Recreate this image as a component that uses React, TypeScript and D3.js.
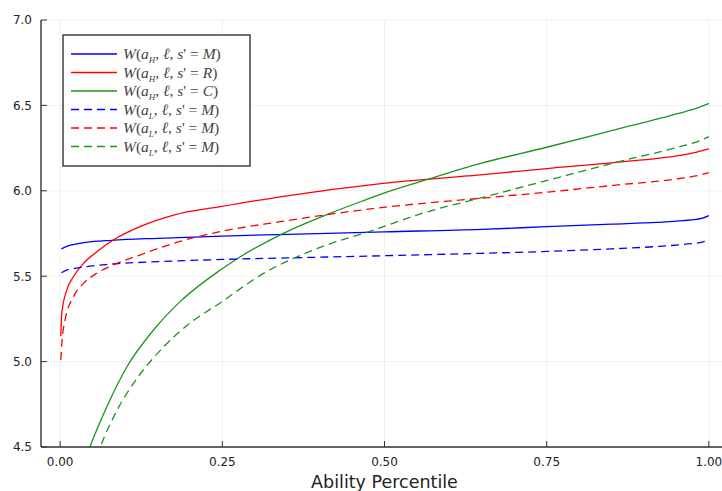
import React from "react";
import * as d3 from "d3";

// ---- data ----
const xTicks = [0, 0.25, 0.5, 0.75, 1.0];
const yTicks = [4.5, 5.0, 5.5, 6.0, 6.5, 7.0];

const hMx = [0.002, 0.01, 0.02, 0.04, 0.08, 0.15, 0.25, 0.35, 0.5, 0.65, 0.75, 0.85, 0.92, 0.96, 0.99, 1.0];
const hMy = [5.66, 5.675, 5.685, 5.698, 5.71, 5.722, 5.735, 5.745, 5.76, 5.774, 5.79, 5.805, 5.815, 5.825, 5.84, 5.855];

const hRx = [0.001, 0.0026, 0.0103, 0.0205, 0.036, 0.0565, 0.082, 0.123, 0.175, 0.247, 0.339, 0.498, 0.647, 0.75, 0.853, 0.955, 0.98, 1.0];
const hRy = [5.15, 5.285, 5.42, 5.497, 5.575, 5.643, 5.712, 5.79, 5.858, 5.907, 5.965, 6.044, 6.093, 6.13, 6.165, 6.207, 6.225, 6.245];

const hCx = [0.03, 0.046, 0.072, 0.103, 0.144, 0.185, 0.247, 0.27, 0.344, 0.416, 0.47, 0.498, 0.56, 0.647, 0.75, 0.853, 0.955, 0.98, 1.0];
const hCy = [4.33, 4.502, 4.736, 4.97, 5.185, 5.351, 5.536, 5.595, 5.751, 5.868, 5.946, 5.985, 6.059, 6.159, 6.255, 6.355, 6.455, 6.482, 6.512];

const lMx = [0.002, 0.01, 0.03, 0.07, 0.15, 0.25, 0.35, 0.5, 0.65, 0.75, 0.85, 0.92, 0.96, 0.99, 1.0];
const lMy = [5.52, 5.535, 5.55, 5.568, 5.585, 5.598, 5.607, 5.62, 5.634, 5.645, 5.66, 5.674, 5.686, 5.70, 5.71];

const lRx = [0.001, 0.0026, 0.0077, 0.0205, 0.036, 0.0565, 0.082, 0.123, 0.175, 0.247, 0.339, 0.498, 0.647, 0.75, 0.853, 0.955, 0.98, 1.0];
const lRy = [5.01, 5.107, 5.244, 5.38, 5.458, 5.517, 5.566, 5.624, 5.693, 5.761, 5.819, 5.903, 5.956, 5.992, 6.032, 6.072, 6.087, 6.106];

const lCx = [0.045, 0.062, 0.087, 0.118, 0.159, 0.195, 0.247, 0.313, 0.39, 0.483, 0.56, 0.655, 0.75, 0.853, 0.955, 0.98, 1.0];
const lCy = [4.3, 4.5, 4.71, 4.899, 5.084, 5.21, 5.345, 5.515, 5.653, 5.77, 5.87, 5.965, 6.06, 6.163, 6.258, 6.285, 6.317];

const seriesColors = ["#0000ff", "#ff0000", "#1f931f"];
const legendSub = ["H", "H", "H", "L", "L", "L"];
const legendS = ["M", "R", "C", "M", "M", "M"];

const series = [
  { xs: hMx, ys: hMy, color: seriesColors[0], dashed: false },
  { xs: hRx, ys: hRy, color: seriesColors[1], dashed: false },
  { xs: hCx, ys: hCy, color: seriesColors[2], dashed: false },
  { xs: lMx, ys: lMy, color: seriesColors[0], dashed: true },
  { xs: lRx, ys: lRy, color: seriesColors[1], dashed: true },
  { xs: lCx, ys: lCy, color: seriesColors[2], dashed: true },
];

export default function App() {
  const W = 722, H = 491;
  const x = d3.scaleLinear().domain([-0.0295, 1.0295]).range([41, 728]);
  const y = d3.scaleLinear().domain([4.5, 7.0]).range([447, 20]);
  const line = d3
    .line<[number, number]>()
    .x((d) => x(d[0]))
    .y((d) => y(d[1]))
    .curve(d3.curveMonotoneX);

  const left = x.range()[0];
  const right = x.range()[1];
  const top = y.range()[1];
  const bottom = y.range()[0];
  const sans = "DejaVu Sans, sans-serif";
  const serif = "'Liberation Serif', 'DejaVu Serif', serif";

  const legX = 63, legY = 35, legW = 187, legH = 131;
  const rowY0 = 54, rowDy = 18.5;

  return (
    <svg width={W} height={H} style={{ position: "absolute", left: 0, top: 0, background: "#fff" }}>
      <defs>
        <clipPath id="plotclip">
          <rect x={left} y={top} width={right - left} height={bottom - top} />
        </clipPath>
      </defs>
      {/* grid */}
      {xTicks.map((t) => (
        <line key={"gx" + t} x1={x(t)} x2={x(t)} y1={top} y2={bottom} stroke="#000" strokeOpacity={0.1} strokeWidth={0.6} />
      ))}
      {yTicks.map((t) => (
        <line key={"gy" + t} x1={left} x2={right} y1={y(t)} y2={y(t)} stroke="#000" strokeOpacity={0.1} strokeWidth={0.6} />
      ))}
      {/* series */}
      <g clipPath="url(#plotclip)">
        {series.map((s, i) => (
          <path
            key={i}
            d={line(s.xs.map((v, j) => [v, s.ys[j]] as [number, number])) || ""}
            fill="none"
            stroke={s.color}
            strokeWidth={1.3}
            strokeDasharray={s.dashed ? "8 5" : undefined}
          />
        ))}
      </g>
      {/* axes */}
      <line x1={left} x2={left} y1={top} y2={bottom} stroke="#333" strokeWidth={1.4} />
      <line x1={left} x2={right} y1={bottom} y2={bottom} stroke="#333" strokeWidth={1.4} />
      {yTicks.map((t) => (
        <g key={"ty" + t}>
          <line x1={left} x2={left + 6} y1={y(t)} y2={y(t)} stroke="#333" strokeWidth={1} />
          <text x={32} y={y(t)} dy="0.36em" textAnchor="end" fontFamily={sans} fontSize={12} fill="#222">
            {t.toFixed(1)}
          </text>
        </g>
      ))}
      {xTicks.map((t) => (
        <g key={"tx" + t}>
          <line x1={x(t)} x2={x(t)} y1={bottom} y2={bottom - 6} stroke="#333" strokeWidth={1} />
          <text x={x(t)} y={466} textAnchor="middle" fontFamily={sans} fontSize={12} fill="#222">
            {t.toFixed(2)}
          </text>
        </g>
      ))}
      <text x={(left + right) / 2} y={488} textAnchor="middle" fontFamily={sans} fontSize={17.5} fill="#222">
        Ability Percentile
      </text>
      {/* legend */}
      <rect x={legX} y={legY} width={legW} height={legH} fill="#fff" stroke="#333" strokeWidth={1.4} />
      {series.map((s, i) => {
        const ry = rowY0 + i * rowDy;
        return (
          <g key={"lg" + i}>
            <line x1={71} x2={117} y1={ry} y2={ry} stroke={s.color} strokeWidth={1.3} strokeDasharray={s.dashed ? "8 5" : undefined} />
            <text x={123} y={ry} dy="0.33em" fontFamily={serif} fontSize={15.5} fill="#444">
              <tspan fontStyle="italic">W</tspan>
              <tspan>(</tspan>
              <tspan fontStyle="italic">a</tspan>
              <tspan fontStyle="italic" fontSize={9} dy={4}>{legendSub[i]}</tspan>
              <tspan dy={-4}>, </tspan>
              <tspan fontStyle="italic">ℓ</tspan>
              <tspan>, </tspan>
              <tspan fontStyle="italic">s</tspan>
              <tspan>' = </tspan>
              <tspan fontStyle="italic">{legendS[i]}</tspan>
              <tspan>)</tspan>
            </text>
          </g>
        );
      })}
    </svg>
  );
}
